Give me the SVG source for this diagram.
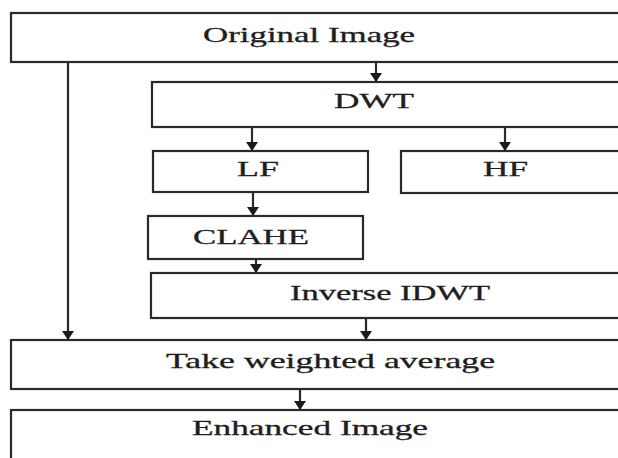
<svg xmlns="http://www.w3.org/2000/svg" width="618" height="458" viewBox="0 0 618 458">
  <style>
    .box { fill: #ffffff; stroke: #2a2a2a; stroke-width: 2.2; }
    .lbl { font-family: "Liberation Serif", "Times New Roman", serif; font-size: 21px; fill: #1e1e1e; stroke: #1e1e1e; stroke-width: 0.3; }
    .wire { stroke: #2a2a2a; stroke-width: 2.2; fill: none; marker-end: url(#head); }
  </style>
  <defs>
    <marker id="head" markerUnits="userSpaceOnUse" markerWidth="14" markerHeight="14" viewBox="0 0 14 14" refX="11" refY="7" orient="auto">
      <path d="M2,1 L11,7 L2,13 Z" fill="#1a1a1a"/>
    </marker>
  </defs>
  <rect width="618" height="458" fill="#ffffff"/>

  <!-- labels are drawn with a wide horizontal scale -->
  <g id="original-image">
    <rect class="box" x="11" y="13" width="620" height="49"/>
    <text class="lbl" transform="translate(203,42) scale(1.62,1)" textLength="130.9" lengthAdjust="spacingAndGlyphs">Original Image</text>
  </g>
  <g id="dwt">
    <rect class="box" x="152" y="82" width="480" height="45"/>
    <text class="lbl" transform="translate(334,108) scale(1.62,1)" textLength="49.4" lengthAdjust="spacingAndGlyphs">DWT</text>
  </g>
  <g id="lf">
    <rect class="box" x="153" y="151" width="215" height="41"/>
    <text class="lbl" transform="translate(237,176) scale(1.62,1)" textLength="25.9" lengthAdjust="spacingAndGlyphs">LF</text>
  </g>
  <g id="hf">
    <rect class="box" x="401" y="151" width="230" height="42"/>
    <text class="lbl" transform="translate(483,176) scale(1.62,1)" textLength="27.8" lengthAdjust="spacingAndGlyphs">HF</text>
  </g>
  <g id="clahe">
    <rect class="box" x="148" y="216" width="215" height="43"/>
    <text class="lbl" transform="translate(193,244) scale(1.62,1)" textLength="71.6" lengthAdjust="spacingAndGlyphs">CLAHE</text>
  </g>
  <g id="inverse-idwt">
    <rect class="box" x="151" y="273" width="480" height="45"/>
    <text class="lbl" transform="translate(290,300) scale(1.62,1)" textLength="123.5" lengthAdjust="spacingAndGlyphs">Inverse IDWT</text>
  </g>
  <g id="weighted-average">
    <rect class="box" x="11" y="340" width="620" height="49"/>
    <text class="lbl" transform="translate(166,368) scale(1.62,1)" textLength="203.1" lengthAdjust="spacingAndGlyphs">Take weighted average</text>
  </g>
  <g id="enhanced-image">
    <rect class="box" x="11" y="410" width="620" height="60"/>
    <text class="lbl" transform="translate(192,435) scale(1.62,1)" textLength="145.7" lengthAdjust="spacingAndGlyphs">Enhanced Image</text>
  </g>

  <g id="connectors">
    <line class="wire" x1="376" y1="62" x2="376" y2="82"/>
    <line class="wire" x1="252" y1="127" x2="252" y2="151"/>
    <line class="wire" x1="505" y1="127" x2="505" y2="151"/>
    <line class="wire" x1="253" y1="192" x2="253" y2="216"/>
    <line class="wire" x1="256" y1="259" x2="256" y2="273"/>
    <line class="wire" x1="366" y1="318" x2="366" y2="340"/>
    <line class="wire" x1="68" y1="62" x2="68" y2="340"/>
    <line class="wire" x1="300" y1="389" x2="300" y2="410"/>
  </g>
</svg>
